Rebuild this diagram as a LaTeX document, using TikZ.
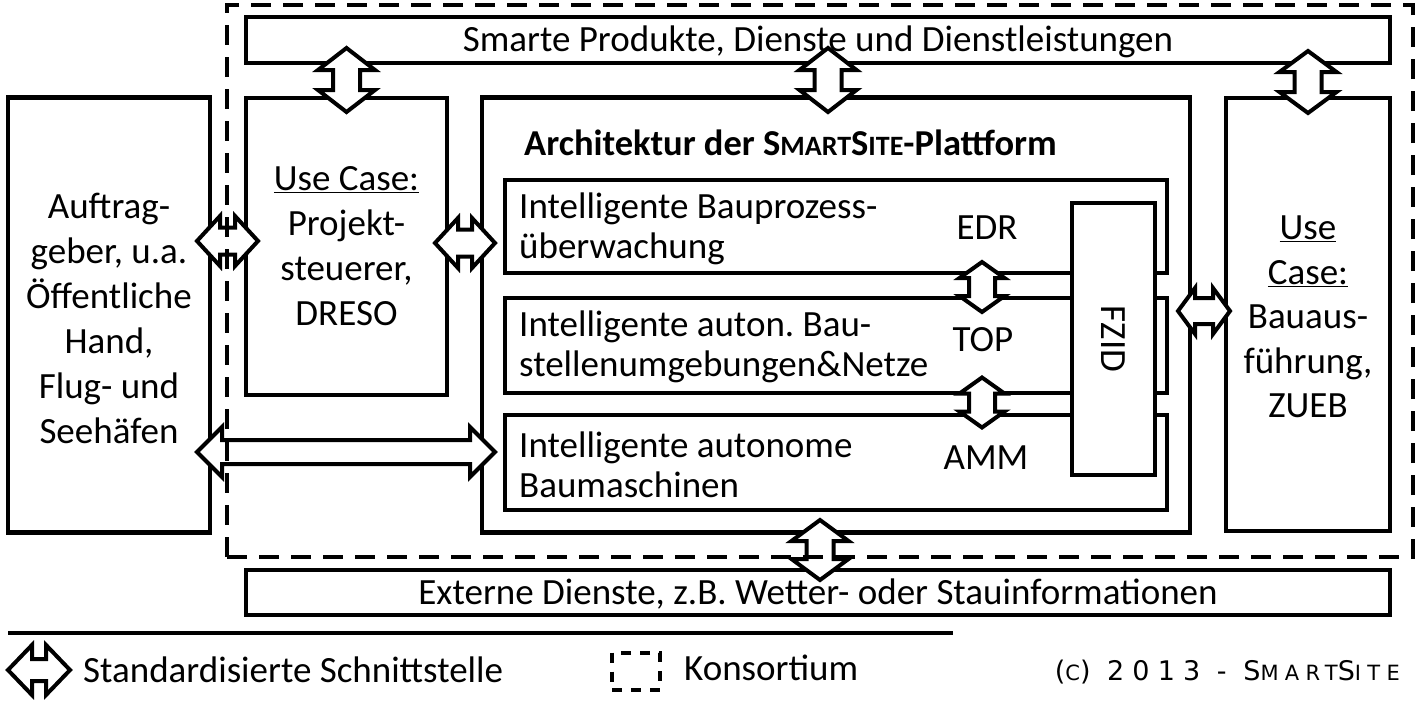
\documentclass[tikz,border=0pt]{standalone}
\usepackage{fontspec}
\setmainfont{Carlito}
\newfontfamily\copyfont[LetterSpace=30]{DejaVu Sans}
\frenchspacing
\newcommand\fsbig{\fontsize{37}{45}\selectfont}
\newcommand\fsin{\fontsize{37}{40}\selectfont}
\newcommand\smcA[1]{{\fontsize{28}{28}\selectfont #1}}
\newcommand\smcB[1]{{\fontsize{21}{21}\selectfont #1}}
\tikzset{
  box/.style={draw, line width=4.5pt, rectangle, inner sep=0pt, outer sep=0pt, fill=white},
  kbox/.style={draw, line width=4.5pt, dash pattern=on 20pt off 12pt, rectangle, inner sep=0pt},
  lbl/.style={inner sep=0pt, font=\fsbig, align=center},
  txt/.style={inner sep=0pt, font=\fsin, align=left},
  blkst/.style={draw, fill=white, line width=4pt, line join=miter},
}
% #1 name, #2 centre, #3 angle, #4 length, #5 head width, #6 shaft width, #7 head length
\newcommand\blkarrow[7]{%
  \coordinate (#1) at #2;
  \draw[blkst, shift={(#1)}, rotate=#3]
    ({-#4/2},0) -- ({-#4/2+#7},{#5/2}) -- ({-#4/2+#7},{#6/2}) -- ({#4/2-#7},{#6/2})
    -- ({#4/2-#7},{#5/2}) -- ({#4/2},0) -- ({#4/2-#7},{-#5/2}) -- ({#4/2-#7},{-#6/2})
    -- ({-#4/2+#7},{-#6/2}) -- ({-#4/2+#7},{-#5/2}) -- cycle;}
\begin{document}
\begin{tikzpicture}[x=1pt, y=-1pt]
\useasboundingbox (0,0) rectangle (1418,705);
% boxes
\node[box, minimum width=1144, minimum height=46] (smart) at (818,40) {};
\node[lbl] (smartt) at (818,42) {Smarte Produkte, Dienste und Dienstleistungen};
\node[box, minimum width=1144, minimum height=45] (ext) at (818,592.5) {};
\node[lbl] (extt) at (818,594) {Externe Dienste, z.B. Wetter- oder Stauinformationen};
\node[box, minimum width=202, minimum height=435] (auft) at (109,315) {};
\node[lbl] (auftt) at (109,318) {Auftrag-\\geber, u.a.\\Öffentliche\\Hand,\\Flug- und\\Seehäfen};
\node[box, minimum width=201, minimum height=297] (proj) at (346.5,246.5) {};
\node[lbl] (projt) at (346.5,246) {\underline{Use Case:}\\Projekt-\\steuerer,\\DRESO};
\node[box, minimum width=708, minimum height=435] (arch) at (836,315) {};
\node[box, minimum width=164, minimum height=433] (bau) at (1308,314.5) {};
\node[lbl, font=\fontsize{37}{44.5}\selectfont] (baut) at (1308,317) {\underline{Use}\\\underline{Case:}\\Bauaus-\\führung,\\ZUEB};
% title
\node[txt, anchor=west, font=\fontsize{36.5}{40}\selectfont\bfseries] (title) at (524,143) {Architektur der S\smcA{MART}S\smcA{ITE}-Plattform};
% inner boxes
\node[box, minimum width=662, minimum height=93] (b1) at (836,226.5) {};
\node[box, minimum width=662, minimum height=95] (b2) at (836,345.5) {};
\node[box, minimum width=662, minimum height=95] (b3) at (836,462.5) {};
\node[txt, anchor=west] (t1) at (519,229) {Intelligente Bauprozess-\\überwachung};
\node[txt, anchor=west] (t2) at (519,347) {Intelligente auton. Bau-\\stellenumgebungen\&Netze};
\node[txt, anchor=west] (t3) at (519,465) {Intelligente autonome\\Baumaschinen};
\node[txt] (edr) at (987,228) {EDR};
\node[txt] (top) at (983,340) {TOP};
\node[txt] (amm) at (986,458) {AMM};
\node[box, minimum width=83, minimum height=272] (fzid) at (1113.5,339) {};
\node[txt, rotate=-90] (fzidt) at (fzid.center) {FZID};
% interfaces
\blkarrow{a1}{(346.5,80)}{90}{64}{57}{27}{22}
\blkarrow{a2}{(828,80)}{90}{64}{57}{27}{22}
\blkarrow{a3}{(1308,82)}{90}{62}{57}{27}{21}
\blkarrow{a4}{(227.5,241)}{0}{61}{50}{27}{23}
\blkarrow{a5}{(465,243)}{0}{60}{50}{27}{23}
\blkarrow{a6}{(1204,311)}{0}{52}{46}{26}{17}
\blkarrow{a7}{(346,452)}{0}{298}{50}{24}{25}
\blkarrow{a8}{(982,287)}{90}{50}{45}{26}{16}
\blkarrow{a9}{(982,402.5)}{90}{50}{45}{26}{16}
\blkarrow{a10}{(820,550)}{90}{60}{57}{27}{21}
% consortium
\node[kbox, minimum width=1186, minimum height=552] (kons) at (820,281) {};
% legend
\coordinate (l1) at (8,633);
\coordinate (l2) at (953,633);
\draw[line width=4pt] (l1) -- (l2);
\blkarrow{leg1}{(39,670)}{0}{62}{50}{22}{24}
\node[txt, anchor=west] (leg1t) at (83,670) {Standardisierte Schnittstelle};
\node[draw, line width=4pt, dash pattern=on 10pt off 9pt, minimum width=48, minimum height=37, inner sep=0pt] (leg2) at (636,671) {};
\node[txt, anchor=west] (leg2t) at (684,668) {Konsortium};
\node[inner sep=0pt, anchor=east, font=\copyfont\fontsize{27}{27}\selectfont] (copy) at (1400,672) {(\smcB{C}) 2013 - S\smcB{MART}S\smcB{ITE}};
\end{tikzpicture}
\end{document}
